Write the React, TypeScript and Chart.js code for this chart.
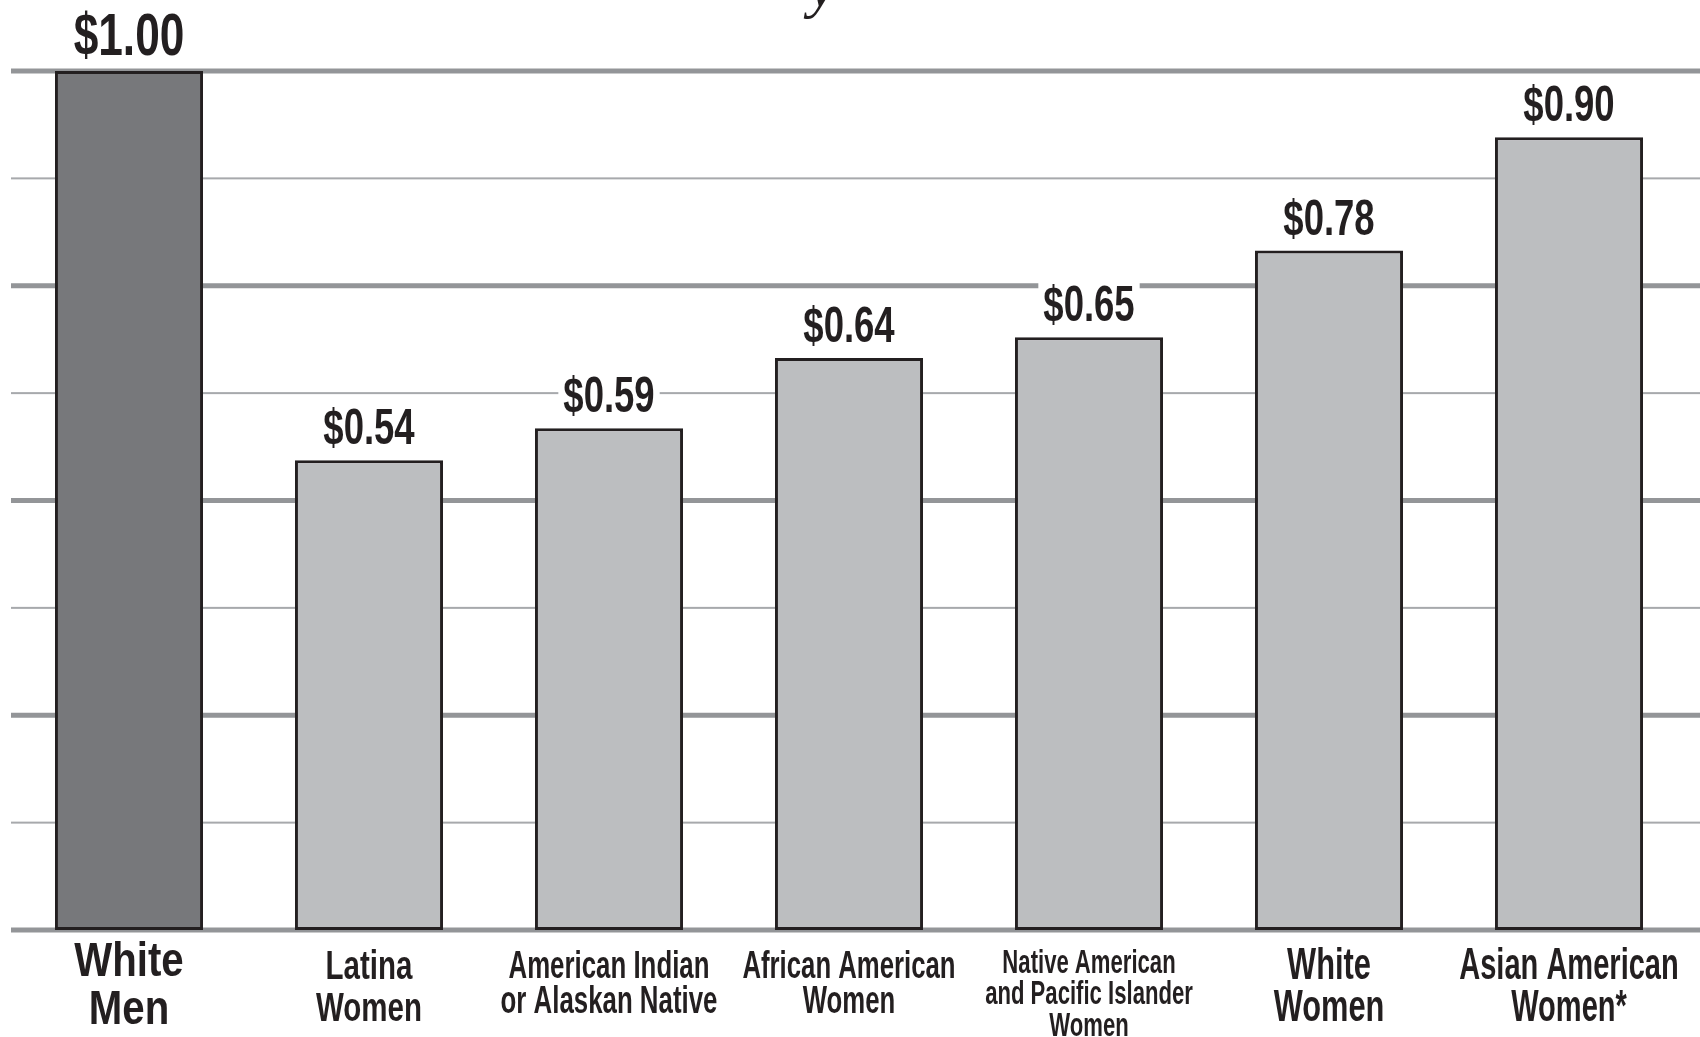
import React, { useEffect, useRef } from "react";
import { Chart, registerables } from "chart.js";

Chart.register(...registerables);

// ---- data ----
const categoryLines: string[][] = [
  ["White", "Men"],
  ["Latina", "Women"],
  ["American Indian", "or Alaskan Native"],
  ["African American", "Women"],
  ["Native American", "and Pacific Islander", "Women"],
  ["White", "Women"],
  ["Asian American", "Women*"],
];
// bar heights as drawn in the picture (dollars per dollar earned by white men)
const barValues: number[] = [1.0, 0.547, 0.584, 0.666, 0.69, 0.791, 0.923];
// printed value labels
const valueLabels: string[] = ["$1.00", "$0.54", "$0.59", "$0.64", "$0.65", "$0.78", "$0.90"];
// gridline values
const gridValues: number[] = [0, 0.125, 0.25, 0.375, 0.5, 0.625, 0.75, 0.875, 1];

// ---- styles ----
const barColors = ["#77787b", "#bcbec0", "#bcbec0", "#bcbec0", "#bcbec0", "#bcbec0", "#bcbec0"];
const labelFontSizes = [49, 41, 38, 39, 33, 44, 44];
const labelCompress = [0.82, 0.72, 0.68, 0.66, 0.67, 0.7, 0.66];
const labelBaselineOffsets: number[][] = [
  [46, 94],
  [49, 91],
  [48, 83],
  [48, 83],
  [43, 74, 106],
  [49, 91],
  [49, 91],
];
const FONT = "'Liberation Sans', Arial, sans-serif";

const gridPlugin = {
  id: "customGrid",
  beforeDatasetsDraw(chart: any) {
    const { ctx } = chart;
    const y = chart.scales.y;
    ctx.save();
    for (const v of gridValues) {
      const py = y.getPixelForValue(v);
      const major = Math.abs(v * 4 - Math.round(v * 4)) < 1e-6;
      ctx.fillStyle = major ? "#939598" : "#a7a9ac";
      const h = major ? 5 : 2;
      ctx.fillRect(11, py - h / 2, chart.width - 11, h);
    }
    ctx.restore();
  },
};

const labelPlugin = {
  id: "customLabels",
  afterDatasetsDraw(chart: any) {
    const { ctx, chartArea } = chart;
    const meta = chart.getDatasetMeta(0);
    ctx.save();
    // value labels
    meta.data.forEach((el: any, i: number) => {
      const big = i === 0;
      const size = big ? 59 : 50;
      const sx = big ? 0.75 : 0.73;
      const baseline = el.y - 16;
      ctx.font = `bold ${size}px ${FONT}`;
      const w = ctx.measureText(valueLabels[i]).width * sx;
      const capH = size * 0.72;
      ctx.fillStyle = "#ffffff";
      ctx.fillRect(el.x - w / 2 - 5, baseline - capH - 8, w + 10, capH + 12);
      ctx.fillStyle = "#231f20";
      ctx.textAlign = "center";
      ctx.textBaseline = "alphabetic";
      ctx.save();
      ctx.translate(el.x, baseline);
      ctx.scale(sx, 1);
      ctx.fillText(valueLabels[i], 0, 0);
      ctx.restore();
    });
    // category labels
    const xs = chart.scales.x;
    categoryLines.forEach((lines, i) => {
      const cx = xs.getPixelForValue(i);
      ctx.font = `bold ${labelFontSizes[i]}px ${FONT}`;
      ctx.fillStyle = "#231f20";
      ctx.textAlign = "center";
      ctx.textBaseline = "alphabetic";
      lines.forEach((line, j) => {
        ctx.save();
        ctx.translate(cx, chartArea.bottom + labelBaselineOffsets[i][j]);
        ctx.scale(labelCompress[i], 1);
        ctx.fillText(line, 0, 0);
        ctx.restore();
      });
    });
    // cut-off title descender
    ctx.font = `italic 60px 'Liberation Serif', 'DejaVu Serif', serif`;
    ctx.fillStyle = "#231f20";
    ctx.textAlign = "center";
    ctx.fillText("y", 822, 6);
    ctx.restore();
  },
};

export default function App() {
  const ref = useRef<HTMLCanvasElement | null>(null);
  useEffect(() => {
    if (!ref.current) return;
    const chart = new Chart(ref.current, {
      type: "bar",
      data: {
        labels: categoryLines.map((l) => l.join(" ")),
        datasets: [
          {
            data: barValues,
            backgroundColor: barColors,
            borderColor: "#231f20",
            borderWidth: 3,
            borderSkipped: false,
            categoryPercentage: 1,
            barPercentage: 0.617,
          },
        ],
      },
      options: {
        responsive: false,
        animation: false,
        devicePixelRatio: 1,
        layout: { padding: { left: 9, right: 11, top: 71, bottom: 107 } },
        plugins: { legend: { display: false }, tooltip: { enabled: false }, title: { display: false } },
        scales: {
          x: { display: false, grid: { display: false } },
          y: { display: false, min: 0, max: 1, grid: { display: false } },
        },
      },
      plugins: [gridPlugin, labelPlugin],
    });
    return () => chart.destroy();
  }, []);
  return (
    <div style={{ position: "absolute", left: 0, top: 0, width: 1700, height: 1037, background: "#fff" }}>
      <canvas ref={ref} width={1700} height={1037} style={{ display: "block" }} />
    </div>
  );
}
